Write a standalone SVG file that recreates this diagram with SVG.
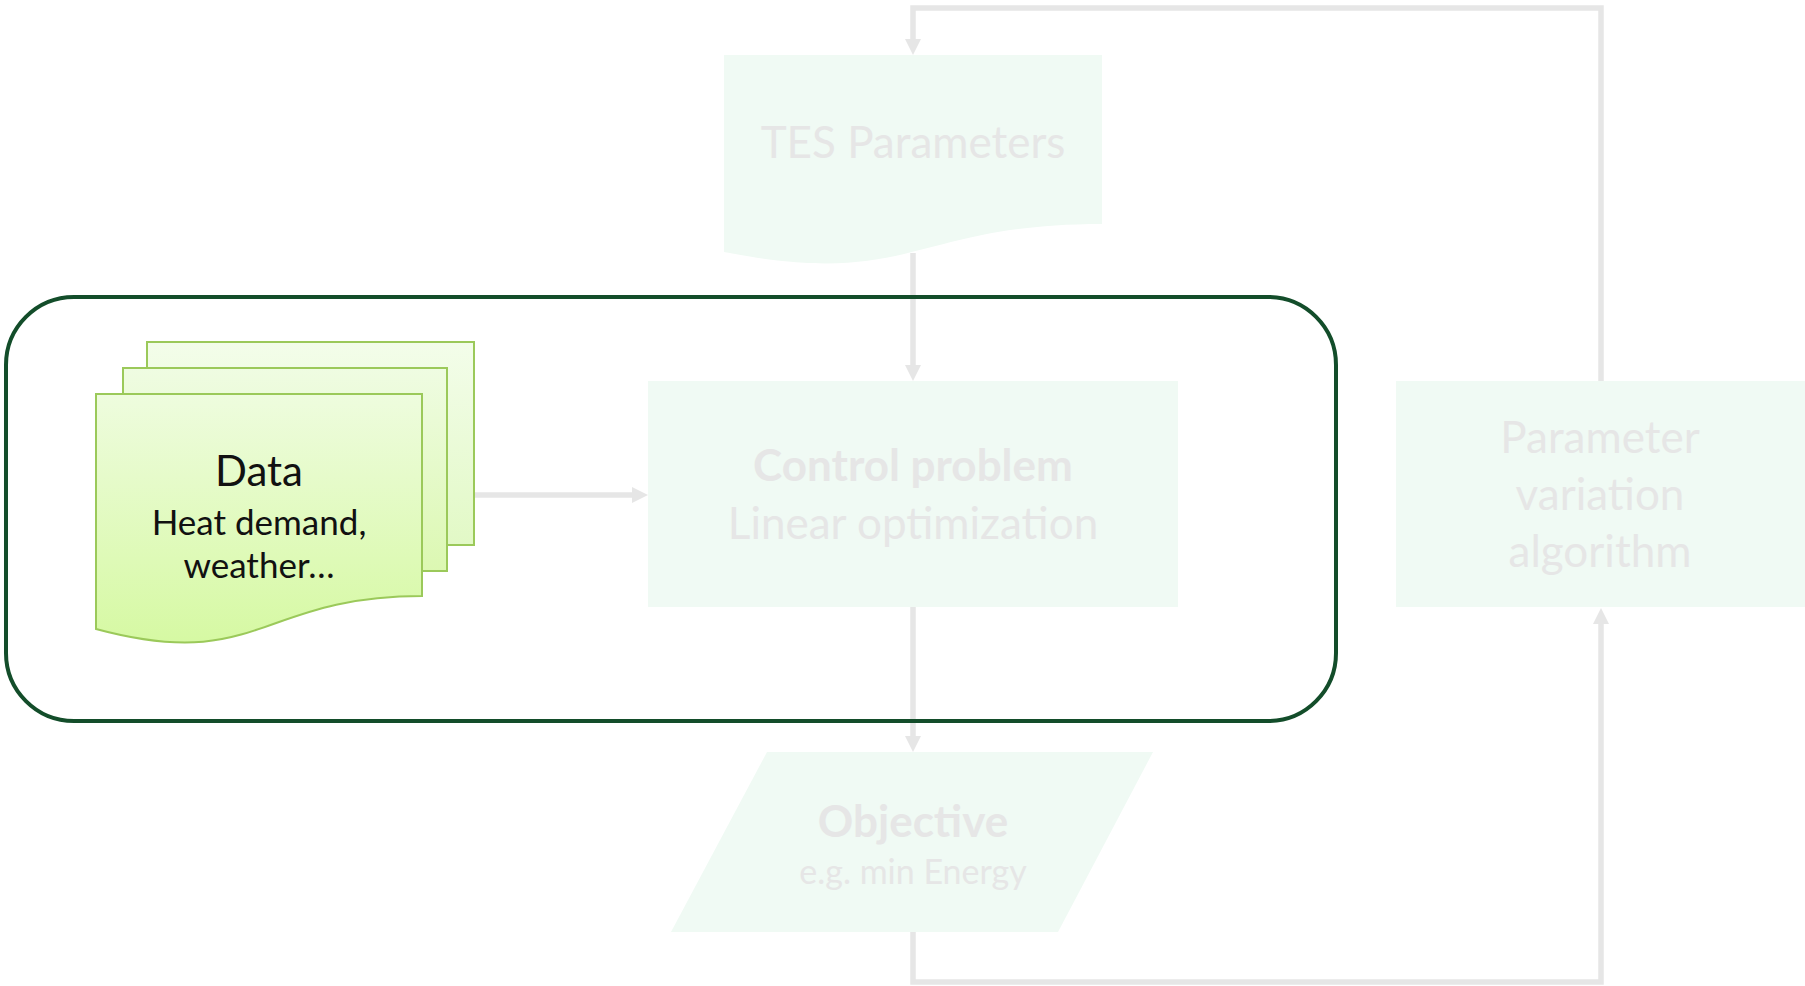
<svg xmlns="http://www.w3.org/2000/svg" width="1805" height="986" viewBox="0 0 1805 986">
<defs>
<linearGradient id="g1" x1="0" y1="0" x2="0" y2="1">
<stop offset="0" stop-color="#f3fdea"/><stop offset="1" stop-color="#e2f9c6"/>
</linearGradient>
<linearGradient id="g2" x1="0" y1="0" x2="0" y2="1">
<stop offset="0" stop-color="#effce2"/><stop offset="1" stop-color="#dcf8b2"/>
</linearGradient>
<linearGradient id="g3" x1="0" y1="0" x2="0" y2="1">
<stop offset="0" stop-color="#eefcde"/><stop offset="1" stop-color="#d6f9a3"/>
</linearGradient>
<marker id="ah" markerWidth="16" markerHeight="16" refX="16" refY="8" orient="auto" markerUnits="userSpaceOnUse">
<path d="M0,0 L16,8 L0,16 Z" fill="#e6e6e6"/>
</marker>
<style>
.ghost{fill:#f0faf4;}
.gt{fill:#e6e6e6;font-family:Lato,"Liberation Sans",sans-serif;text-anchor:middle;}
.dt{fill:#111;font-family:Lato,"Liberation Sans",sans-serif;text-anchor:middle;}
.conn{fill:none;stroke:#e6e6e6;stroke-width:5.5;}
.sheet{stroke:#9bc95a;stroke-width:2;}
</style>
</defs>
<rect width="1805" height="986" fill="#fff"/>
<g id="connectors">
<path class="conn" d="M1601,381 V8 H913 V45"/>
<path d="M905,39 L921,39 L913,55 Z" fill="#e6e6e6"/>
<path class="conn" d="M913,253 V371"/>
<path d="M905,365 L921,365 L913,381 Z" fill="#e6e6e6"/>
<path class="conn" d="M475,495 H638"/>
<path d="M632,487 L632,503 L648,495 Z" fill="#e6e6e6"/>
<path class="conn" d="M913,607 V742"/>
<path d="M905,736 L921,736 L913,752 Z" fill="#e6e6e6"/>
<path class="conn" d="M913,932 V982 H1601 V617"/>
<path d="M1593,624 L1609,624 L1601,608 Z" fill="#e6e6e6"/>
</g>
<g id="tes">
<path class="ghost" d="M724,55 H1102 V224 C913,224 913,289 724,252 Z"/>
<text class="gt" x="913" y="158" font-size="44">TES Parameters</text>
</g>
<g id="control">
<rect class="ghost" x="648" y="381" width="530" height="226"/>
<text class="gt" x="913" y="481" font-size="44" font-weight="bold">Control problem</text>
<text class="gt" x="913" y="539" font-size="44">Linear optimization</text>
</g>
<g id="objective">
<path class="ghost" d="M767,752 H1153 L1058,932 H671 Z"/>
<text class="gt" x="913" y="837" font-size="44" font-weight="bold">Objective</text>
<text class="gt" x="913" y="884" font-size="34">e.g. min Energy</text>
</g>
<g id="param">
<rect class="ghost" x="1396" y="381" width="420" height="226"/>
<text class="gt" x="1600" y="453" font-size="44">Parameter</text>
<text class="gt" x="1600" y="510" font-size="44">variation</text>
<text class="gt" x="1600" y="567" font-size="44">algorithm</text>
</g>
<g id="frame">
<rect x="6" y="297" width="1330" height="424" rx="68" ry="68" fill="none" stroke="#134d2a" stroke-width="4"/>
</g>
<g id="data">
<rect class="sheet" x="147" y="342" width="327" height="203" fill="url(#g1)"/>
<rect class="sheet" x="123" y="368" width="324" height="203" fill="url(#g2)"/>
<path class="sheet" d="M96,394 H422 V596 C259,596 259,673 96,629 Z" fill="url(#g3)"/>
<text class="dt" x="259" y="486" font-size="42">Data</text>
<text class="dt" x="259" y="535" font-size="35">Heat demand,</text>
<text class="dt" x="259" y="578" font-size="35">weather…</text>
</g>
</svg>
